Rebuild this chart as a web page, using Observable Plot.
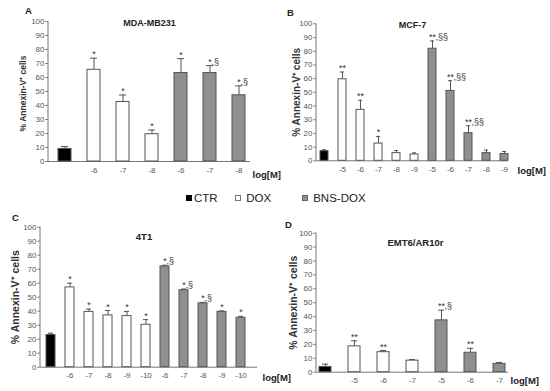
<!DOCTYPE html>
<html>
<head>
<meta charset="utf-8">
<script src="https://cdn.jsdelivr.net/npm/d3@7"></script>
<script src="https://cdn.jsdelivr.net/npm/@observablehq/plot@0.6"></script>
<style>
  html, body { margin: 0; padding: 0; background: #fff; }
  #wrap { position: relative; width: 550px; height: 391px; overflow: hidden; font-family: "Liberation Sans", Arial, sans-serif; }
  #wrap svg { position: absolute; }
  .leg { position: absolute; top: 191px; font-size: 11.5px; color: #222; line-height: 14px; white-space: nowrap; }
  .sw { display: inline-block; width: 6px; height: 6px; margin-right: 2px; vertical-align: 1px; box-sizing: border-box; }
</style>
</head>
<body>
<div id="wrap"></div>
<script>
// ---------- data ----------
const groupNames = ["CTR", "DOX", "BNS-DOX"];
const groupFills = ["#000000", "#ffffff", "#8f8f8f"];
const yLabel = "% Annexin-V\u207A cells";
const xUnit = "log[M]";

// Panel A — MDA-MB231
const aLabels = ["", "-6", "-7", "-8", "-6", "-7", "-8"];
const aGroups = ["CTR", "DOX", "DOX", "DOX", "BNS-DOX", "BNS-DOX", "BNS-DOX"];
const aValues = [9, 65.5, 42.5, 19.5, 63.2, 63.2, 47.3];
const aErrors = [10.7, 73.8, 47.5, 22.5, 73.5, 68.5, 54];
const aStars  = ["", "*", "*", "*", "*", "*", "*"];
const aSects  = ["", "", "", "", "", ",§", ",§"];

// Panel B — MCF-7
const bLabels = ["", "-5", "-6", "-7", "-8", "-9", "-5", "-6", "-7", "-8", "-9"];
const bGroups = ["CTR", "DOX", "DOX", "DOX", "DOX", "DOX", "BNS-DOX", "BNS-DOX", "BNS-DOX", "BNS-DOX", "BNS-DOX"];
const bValues = [7, 59.5, 37.2, 12.6, 5.6, 4.6, 81.8, 51, 20.2, 5.6, 5];
const bErrors = [8, 64.8, 44.2, 17.8, 7.5, 5.8, 87.5, 58.5, 25.6, 7.8, 6.8];
const bStars  = ["", "**", "**", "*", "", "", "**", "**", "**", "", ""];
const bSects  = ["", "", "", "", "", "", ",§§", ",§§", ",§§", "", ""];

// Panel C — 4T1
const cLabels = ["", "-6", "-7", "-8", "-9", "-10", "-6", "-7", "-8", "-9", "-10"];
const cGroups = ["CTR", "DOX", "DOX", "DOX", "DOX", "DOX", "BNS-DOX", "BNS-DOX", "BNS-DOX", "BNS-DOX", "BNS-DOX"];
const cValues = [23, 57, 39.5, 37, 36.5, 30.3, 72, 55, 45.6, 39.5, 35.3];
const cErrors = [24.3, 60, 41.5, 40.5, 39.8, 34, 72.8, 55.8, 46.3, 40.2, 36.3];
const cStars  = ["", "*", "*", "*", "*", "*", "*", "*", "*", "*", "*"];
const cSects  = ["", "", "", "", "", "", ",§", ",§", ",§", "", ""];

// Panel D — EMT6/AR10r
const dLabels = ["", "-5", "-6", "-7", "-5", "-6", "-7"];
const dGroups = ["CTR", "DOX", "DOX", "DOX", "BNS-DOX", "BNS-DOX", "BNS-DOX"];
const dValues = [3.8, 18.6, 14.4, 8.3, 37.3, 14, 6];
const dErrors = [5.8, 22.6, 15.6, 9.1, 44.6, 17.2, 7];
const dStars  = ["", "**", "**", "", "**", "**", ""];
const dSects  = ["", "", "", "", ",§", "", ""];

const yTicks = [0, 10, 20, 30, 40, 50, 60, 70, 80, 90, 100];

// ---------- drawing ----------
const FONT = "Liberation Sans, Arial, sans-serif";

function panel(cfg) {
  const n = cfg.labels.length;
  const rows = cfg.labels.map((l, i) => ({
    key: i, label: l, group: cfg.groups[i], value: cfg.values[i], err: cfg.errors[i],
    star: cfg.stars[i], sect: cfg.sects[i]
  }));
  const p = cfg.pad;
  const a = cfg.c0 - (1 - p) * cfg.step / 2;
  const b = a + cfg.step * (n - p);
  const yAxisLine = (index, scales, values, dims) => {
    const l = document.createElementNS("http://www.w3.org/2000/svg", "line");
    l.setAttribute("x1", dims.marginLeft); l.setAttribute("x2", dims.marginLeft);
    l.setAttribute("y1", dims.marginTop); l.setAttribute("y2", dims.height - dims.marginBottom);
    l.setAttribute("stroke", "#777"); l.setAttribute("stroke-width", 1);
    return l;
  };
  const svg = Plot.plot({
    width: cfg.w, height: cfg.h,
    marginLeft: cfg.mL, marginRight: cfg.mR, marginTop: cfg.mT, marginBottom: cfg.mB,
    style: { background: "transparent", overflow: "visible", fontFamily: FONT },
    x: { type: "band", domain: d3.range(n), range: [a, b], paddingInner: p, paddingOuter: 0 },
    y: { domain: [0, 100] },
    color: { domain: groupNames, range: groupFills },
    marks: [
      Plot.axisY({ ticks: yTicks, tickSize: 2.5, tickPadding: 1.5, fontSize: cfg.tickFont, fill: "#555", stroke: "#777", label: null }),
      Plot.axisX({ tickSize: 0, tickPadding: cfg.xPad, tickFormat: (i) => cfg.labels[i], fontSize: cfg.tickFont, fill: "#555", label: null }),
      Plot.ruleY([0], { stroke: "#777" }),
      yAxisLine,
      Plot.ruleX(rows, { x: "key", y1: "value", y2: "err", stroke: "#555" }),
      Plot.tickY(rows, { x: "key", y: "err", stroke: "#555", insetLeft: cfg.capInset, insetRight: cfg.capInset }),
      Plot.barY(rows, { x: "key", y: "value", fill: "group", stroke: "#555", strokeWidth: 1 }),
      Plot.text(rows, { x: "key", y: "err", text: "star", lineAnchor: "bottom", dy: -1, fontSize: 9, fill: "#333" }),
      Plot.text(rows, { x: "key", y: "err", text: "sect", lineAnchor: "bottom", textAnchor: "start", dx: cfg.sectDx, dy: -1, fontSize: 9, fill: "#333" }),
      Plot.text([cfg.title], { frameAnchor: "top", textAnchor: "middle", lineAnchor: "middle", dx: cfg.titleDx, dy: cfg.titleDy, fontSize: cfg.titleFont, fontWeight: "bold", fill: "#222" }),
      Plot.text([cfg.letter], { frameAnchor: "top-left", textAnchor: "middle", lineAnchor: "middle", dx: cfg.letterDx, dy: cfg.letterDy, fontSize: 9.5, fontWeight: "bold", fill: "#222" }),
      Plot.text([yLabel], { frameAnchor: "left", textAnchor: "middle", lineAnchor: "middle", rotate: -90, dx: cfg.yLabDx, dy: cfg.yLabDy, fontSize: cfg.yLabFont, fontWeight: "bold", fill: "#333" }),
      Plot.text([xUnit], { frameAnchor: "bottom-right", textAnchor: "start", lineAnchor: "middle", dx: cfg.unitDx, dy: cfg.unitDy, fontSize: 9.5, fontWeight: "bold", fill: "#222" })
    ]
  });
  svg.style.left = cfg.left + "px";
  svg.style.top = cfg.top + "px";
  return svg;
}

const wrap = document.getElementById("wrap");

wrap.appendChild(panel({
  letter: "A", title: "MDA-MB231", labels: aLabels, groups: aGroups, values: aValues, errors: aErrors, stars: aStars, sects: aSects,
  left: 0, top: 0, w: 275, h: 185, mL: 48, mR: 25, mT: 21, mB: 24,
  c0: 61.5, step: 29.92, pad: 0.55, capInset: 3,
  tickFont: 8, xPad: 6, sectDx: 1.5,
  titleFont: 9, titleDx: 0, titleDy: 2,
  letterDx: -20, letterDy: -11,
  yLabDx: -25, yLabDy: 2, yLabFont: 8.5,
  unitDx: 2, unitDy: 13
}));

wrap.appendChild(panel({
  letter: "B", title: "MCF-7", labels: bLabels, groups: bGroups, values: bValues, errors: bErrors, stars: bStars, sects: bSects,
  left: 275, top: 0, w: 275, h: 185, mL: 41, mR: 42, mT: 23.3, mB: 24.7,
  c0: 48.7, step: 18.03, pad: 0.53, capInset: 2,
  tickFont: 8, xPad: 6, sectDx: 3,
  titleFont: 9, titleDx: 0, titleDy: 1,
  letterDx: -26, letterDy: -11,
  yLabDx: -20, yLabDy: 0, yLabFont: 10,
  unitDx: 9, unitDy: 10
}));

wrap.appendChild(panel({
  letter: "C", title: "4T1", labels: cLabels, groups: cGroups, values: cValues, errors: cErrors, stars: cStars, sects: cSects,
  left: 0, top: 205, w: 275, h: 186, mL: 40, mR: 18, mT: 21.7, mB: 24.3,
  c0: 48.3, step: 19.47, pad: 0.54, capInset: 2,
  tickFont: 8, xPad: 5, sectDx: 1.5,
  titleFont: 9.5, titleDx: -5, titleDy: 10,
  letterDx: -25, letterDy: -9,
  yLabDx: -25, yLabDy: 0, yLabFont: 10.5,
  unitDx: 5, unitDy: 11
}));

wrap.appendChild(panel({
  letter: "D", title: "EMT6/AR10r", labels: dLabels, groups: dGroups, values: dValues, errors: dErrors, stars: dStars, sects: dSects,
  left: 275, top: 205, w: 275, h: 186, mL: 41, mR: 42, mT: 27.7, mB: 19.3,
  c0: 49, step: 29.45, pad: 0.59, capInset: 3,
  tickFont: 8, xPad: 5, sectDx: 3,
  titleFont: 9.5, titleDx: 3, titleDy: 10,
  letterDx: -28, letterDy: -8.5,
  yLabDx: -23, yLabDy: 0, yLabFont: 10.5,
  unitDx: 2, unitDy: 9
}));

// legend (HTML)
const legLeft = [186, 235, 302];
const legBorder = ["#000", "#777", "#666"];
groupNames.forEach((g, i) => {
  const d = document.createElement("div");
  d.className = "leg";
  d.style.left = legLeft[i] + "px";
  const s = document.createElement("span");
  s.className = "sw";
  s.style.background = groupFills[i];
  s.style.border = "1px solid " + legBorder[i];
  d.appendChild(s);
  d.appendChild(document.createTextNode((i === 0 ? "" : " ") + g));
  wrap.appendChild(d);
});
</script>
</body>
</html>
